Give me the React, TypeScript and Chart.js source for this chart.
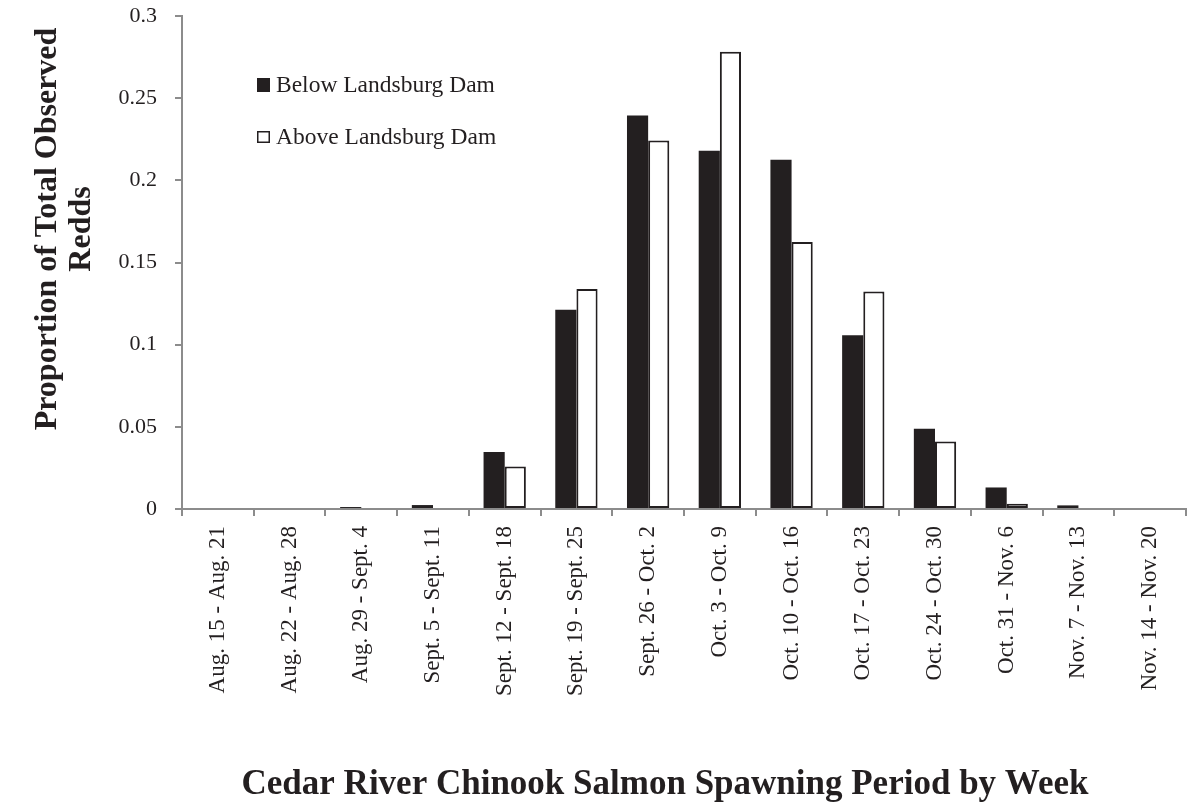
import { useEffect, useRef } from "react";
import { Chart, registerables } from "chart.js";

Chart.register(...registerables);

const FONT = "'Liberation Serif', 'Times New Roman', serif";
const INK = "#231f20";
const AXIS = "#8c8c8c";

const categories = [
  "Aug. 15 - Aug. 21",
  "Aug. 22 - Aug. 28",
  "Aug. 29 - Sept. 4",
  "Sept. 5 - Sept. 11",
  "Sept. 12 - Sept. 18",
  "Sept. 19 - Sept. 25",
  "Sept. 26 - Oct. 2",
  "Oct. 3 - Oct. 9",
  "Oct. 10 - Oct. 16",
  "Oct. 17 - Oct. 23",
  "Oct. 24 - Oct. 30",
  "Oct. 31 - Nov. 6",
  "Nov. 7 - Nov. 13",
  "Nov. 14 - Nov. 20",
];

const belowDam = [0, 0, 0.0012, 0.0024, 0.0347, 0.1212, 0.2394, 0.218, 0.2125, 0.1058, 0.0488, 0.0131, 0.0022, 0];
const aboveDam = [0, 0, 0, 0, 0.0259, 0.1338, 0.2242, 0.2782, 0.1624, 0.1324, 0.041, 0.0032, 0, 0];

const seriesNames = ["Below Landsburg Dam", "Above Landsburg Dam"];
const yTickLabels = ["0", "0.05", "0.1", "0.15", "0.2", "0.25", "0.3"];
const yTitleLines = ["Proportion of Total Observed", "Redds"];
const xTitle = "Cedar River Chinook Salmon Spawning Period by Week";

function zeroPadding(scale: any) {
  scale.paddingTop = 0;
  scale.paddingBottom = 0;
  scale.paddingLeft = 0;
  scale.paddingRight = 0;
}

export default function App() {
  const ref = useRef<HTMLCanvasElement>(null);

  useEffect(() => {
    if (!ref.current) return;

    const decorations = {
      id: "decorations",
      afterDraw(chart: any) {
        const ctx = chart.ctx;
        const area = chart.chartArea;
        ctx.save();
        ctx.fillStyle = INK;
        ctx.textAlign = "center";
        ctx.textBaseline = "middle";
        ctx.font = `bold 32px ${FONT}`;
        yTitleLines.forEach((line, i) => {
          ctx.save();
          ctx.translate(48 + i * 34, 229);
          ctx.rotate(-Math.PI / 2);
          ctx.fillText(line, 0, 0);
          ctx.restore();
        });
        ctx.font = `bold 35px ${FONT}`;
        ctx.fillText(xTitle, 665, 785);

        // legend
        ctx.font = `23.5px ${FONT}`;
        ctx.textAlign = "left";
        const lx = area.left + 75;
        const rows = [85, 137];
        chart.data.datasets.forEach((ds: any, i: number) => {
          const cy = rows[i];
          if (i === 0) {
            ctx.fillStyle = ds.backgroundColor;
            ctx.fillRect(lx, cy - 7, 13, 14);
          } else {
            ctx.fillStyle = "#ffffff";
            ctx.fillRect(lx, cy - 6, 13, 12);
            ctx.strokeStyle = INK;
            ctx.lineWidth = 1.5;
            ctx.strokeRect(lx + 0.75, cy - 5.25, 11.5, 10.5);
          }
          ctx.fillStyle = INK;
          ctx.fillText(ds.label, lx + 19, cy + 1);
        });
        ctx.restore();
      },
    };

    const chart = new Chart(ref.current, {
      type: "bar",
      data: {
        labels: categories,
        datasets: [
          {
            label: seriesNames[0],
            data: belowDam,
            backgroundColor: INK,
            borderWidth: 0,
            categoryPercentage: 0.59,
            barPercentage: 1,
          },
          {
            label: seriesNames[1],
            data: aboveDam,
            backgroundColor: "#ffffff",
            borderColor: INK,
            borderWidth: 2,
            borderSkipped: false,
            categoryPercentage: 0.59,
            barPercentage: 1,
          },
        ],
      },
      options: {
        responsive: false,
        animation: false,
        devicePixelRatio: 1,
        layout: { padding: { top: 16, right: 2, left: 0, bottom: 0 } },
        plugins: {
          legend: { display: false },
          tooltip: { enabled: false },
        },
        scales: {
          x: {
            grid: {
              display: true,
              drawOnChartArea: false,
              drawTicks: true,
              tickLength: 7,
              color: AXIS,
              lineWidth: 2,
              offset: true,
            },
            border: { color: AXIS, width: 2 },
            ticks: {
              autoSkip: false,
              maxRotation: 90,
              minRotation: 90,
              color: INK,
              padding: 10,
              font: { family: FONT, size: 23 },
            },
            afterFit(scale: any) {
              scale.height = 295;
              zeroPadding(scale);
            },
          },
          y: {
            min: 0,
            max: 0.3,
            grid: {
              drawOnChartArea: false,
              drawTicks: true,
              tickLength: 7,
              color: AXIS,
              lineWidth: 2,
            },
            border: { color: AXIS, width: 2 },
            ticks: {
              stepSize: 0.05,
              color: INK,
              padding: 18,
              font: { family: FONT, size: 22 },
              callback: (_v: any, i: number) => yTickLabels[i],
            },
            afterFit(scale: any) {
              scale.width = 182;
              zeroPadding(scale);
            },
          },
        },
      },
      plugins: [decorations],
    });

    return () => chart.destroy();
  }, []);

  return (
    <div style={{ position: "absolute", left: 0, top: 0, width: 1188, height: 804, background: "#fff" }}>
      <canvas ref={ref} width={1188} height={804} style={{ display: "block" }} />
    </div>
  );
}
